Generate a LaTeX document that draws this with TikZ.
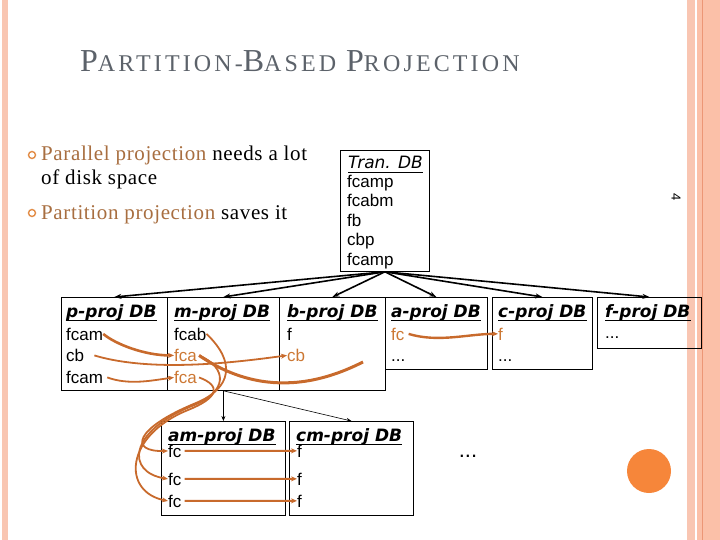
\documentclass[tikz,border=0pt]{standalone}
\usepackage{fontspec}
\setmainfont{Liberation Serif}
\setsansfont{Liberation Sans}
\newfontfamily\titlefont{Liberation Serif}[LetterSpace=13]
\newfontfamily\bodyfont{Liberation Serif}[LetterSpace=3]
\newfontfamily\dbfont{DejaVu Sans}
\usepackage{tikz}
\usetikzlibrary{arrows.meta}
\definecolor{myorange}{RGB}{200,106,44}
\definecolor{mytextorange}{RGB}{204,120,52}
\definecolor{mybrown}{RGB}{168,110,64}
\definecolor{mygray}{RGB}{92,98,106}
\definecolor{mybullet}{RGB}{226,140,70}
\definecolor{mypeach}{RGB}{249,198,178}
\definecolor{mypeachfill}{RGB}{251,192,168}
\definecolor{mypeachdark}{RGB}{236,150,118}
\definecolor{mydisc}{RGB}{246,134,58}
\newcommand{\tcap}[1]{{\fontsize{32}{32}\selectfont #1}}
\newcommand{\tsml}[1]{{\fontsize{24}{24}\selectfont #1}}
\tikzset{
  dbbox/.style={draw=black, line width=0.8pt, inner sep=0pt, anchor=north west},
  dbhead/.style={font=\dbfont\bfseries\itshape\fontsize{17}{17}\selectfont,
    inner sep=0pt, anchor=base west},
  tranhead/.style={font=\dbfont\itshape\fontsize{17}{17}\selectfont,
    inner sep=0pt, anchor=base west},
  item/.style={font=\sffamily\fontsize{17}{17}\selectfont, inner sep=0pt, anchor=base west},
  hitem/.style={item, text=mytextorange},
  bodytext/.style={font=\bodyfont\fontsize{21}{21}\selectfont, inner sep=0pt, anchor=base west},
  bulletring/.style={circle, draw=mybullet, line width=1.4pt, minimum size=7pt, inner sep=0pt},
  headrule/.style={line width=1.6pt},
  arrow/.style={-{Stealth[length=7pt,width=5pt]}, line width=1.6pt},
  thinarrow/.style={-{Stealth[length=5pt,width=4pt]}, line width=0.6pt},
  orangearrow/.style={-{Stealth[length=6pt,width=5pt]}, draw=myorange, line width=1.8pt},
  orangeline/.style={draw=myorange, line width=2.6pt}
}

\begin{document}
\begin{tikzpicture}[x=1pt, y=-1pt]
  \useasboundingbox (0,0) rectangle (720,540);
  % Borders
  \fill[mypeach] (2,0) rectangle (8,540);
  \fill[mypeach] (687,0) rectangle (695,540);
  \fill[mypeachfill] (697,0) rectangle (720,540);
  \draw[mypeachdark, line width=0.8pt] (702.5,0) -- (702.5,540);
  \fill[mydisc] (649,471) circle (22);
  % Title
  \node[font=\titlefont, text=mygray, inner sep=0pt, anchor=base west] (title) at (80,72)
    {\tcap{P}\tsml{ARTITION-}\tcap{B}\tsml{ASED}\hspace{10pt}\tcap{P}\tsml{ROJECTION}};
  \node[font=\sffamily\fontsize{13}{13}\selectfont, rotate=-90] (pagenum) at (676,197) {4};
  % Bullets
  \node[bulletring] (bul1) at (32,155) {};
  \node[bulletring] (bul2) at (32,213) {};
  \node[bodytext] (line1) at (41,161) {\textcolor{mybrown}{Parallel projection} needs a lot};
  \node[bodytext] (line2) at (41,185) {of disk space};
  \node[bodytext] (line3) at (41,219) {\textcolor{mybrown}{Partition projection} saves it};
  % Tran. DB
  \node[dbbox, minimum width=89, minimum height=121] (tran) at (340,150) {};
  \node[tranhead] (htran) at (348,169) {Tran. DB};
  \node[item] (tr1) at (347,188) {fcamp};
  \node[item] (tr2) at (347,207) {fcabm};
  \node[item] (tr3) at (347,226) {fb};
  \node[item] (tr4) at (347,245) {cbp};
  \node[item] (tr5) at (347,265) {fcamp};
  % Projected DBs
  \node[dbbox, minimum width=106, minimum height=93] (pbox) at (61,297) {};
  \node[dbbox, minimum width=112, minimum height=93] (mbox) at (167,297) {};
  \node[dbbox, minimum width=106, minimum height=93] (bbox) at (279,297) {};
  \node[dbbox, minimum width=102, minimum height=72] (abox) at (385,297) {};
  \node[dbbox, minimum width=100, minimum height=72] (cbox) at (492,297) {};
  \node[dbbox, minimum width=104, minimum height=51] (fbox) at (597,297) {};
  \node[dbhead] (hp) at (66,317) {p-proj DB};
  \node[dbhead] (hm) at (174,317) {m-proj DB};
  \node[dbhead] (hb) at (287,317) {b-proj DB};
  \node[dbhead] (ha) at (391,317) {a-proj DB};
  \node[dbhead] (hc) at (498,317) {c-proj DB};
  \node[dbhead] (hf) at (605,317) {f-proj DB};
  \node[item] (p1) at (66,340) {fcam};
  \node[item] (p2) at (66,361.5) {cb};
  \node[item] (p3) at (66,383.5) {fcam};
  \node[item] (m1) at (174,340) {fcab};
  \node[hitem] (m2) at (174,361.5) {fca};
  \node[hitem] (m3) at (174,383.5) {fca};
  \node[item] (b1) at (287,340) {f};
  \node[hitem] (b2) at (287,361.5) {cb};
  \node[item] (b3) at (287,383.5) {...};
  \node[hitem] (a1) at (391,340) {fc};
  \node[item] (a2) at (391,361) {...};
  \node[hitem] (c1) at (498,340) {f};
  \node[item] (c2) at (498,361) {...};
  \node[item] (f1) at (605,338) {...};
  % Second level
  \node[dbbox, minimum width=124, minimum height=94] (ambox) at (161,421) {};
  \node[dbbox, minimum width=124, minimum height=94] (cmbox) at (289,421) {};
  \node[dbhead] (ham) at (168,441) {am-proj DB};
  \node[dbhead] (hcm) at (296,441) {cm-proj DB};
  \node[item] (am1) at (168,457) {fc};
  \node[item] (am2) at (168,485) {fc};
  \node[item] (am3) at (168,507) {fc};
  \node[item] (cm1) at (297,457) {f};
  \node[item] (cm2) at (297,485) {f};
  \node[item] (cm3) at (297,507) {f};
  \node[font=\sffamily\fontsize{22}{22}\selectfont, inner sep=0pt] (dots) at (468,456) {...};
  \coordinate (bend) at (363,362);
  % Heading rules
  \foreach \h in {htran,hp,hm,hb,ha,hc,hf,ham,hcm}
    \draw[headrule] ([yshift=-3.5pt]\h.base west) -- ([yshift=-3.5pt]\h.base east);
  % Tran. DB to projected DBs
  \foreach \b in {pbox,mbox,bbox,abox,cbox,fbox}
    \draw[arrow] (tran.south) -- (\b.north);
  \draw[thinarrow] (mbox.south) -- (ambox.north);
  \draw[thinarrow] (mbox.south) -- (cmbox.north);
  % Orange links
  \draw[orangearrow, line width=2.6pt] (p1.east) .. controls +(12,10) and +(-30,0) .. (m2.west);
  \draw[orangearrow] ([xshift=10pt]p2.east) .. controls +(60,18) and +(-45,6) .. (b2.west);
  \draw[orangearrow] ([xshift=4pt]p3.east) .. controls +(22,8) and +(-22,3) .. (m3.west);
  \draw[orangeline, line width=3pt] ([xshift=2pt]m2.east) .. controls +(70,48) and +(-30,15) .. (bend);
  \draw[orangearrow, line width=2.4pt] ([xshift=4pt]a1.east) .. controls +(30,9) and +(-30,0) .. (c1.west);
  \draw[orangearrow] (m1.east) .. controls (236,362) and (232,388) .. (196,403)
    .. controls (135,428) and (128,452) .. (am1.west);
  \draw[orangearrow] ([xshift=2pt]m2.east) .. controls (228,368) and (228,392) .. (192,406)
    .. controls (128,432) and (126,472) .. (am2.west);
  \draw[orangearrow] ([xshift=2pt]m3.east) .. controls (222,386) and (218,398) .. (188,410)
    .. controls (124,436) and (122,492) .. (am3.west);
  \foreach \r in {1,2,3}
    \draw[orangearrow, line width=2pt] ([xshift=3pt]am\r.east) -- (cm\r.west);
\end{tikzpicture}
\end{document}
